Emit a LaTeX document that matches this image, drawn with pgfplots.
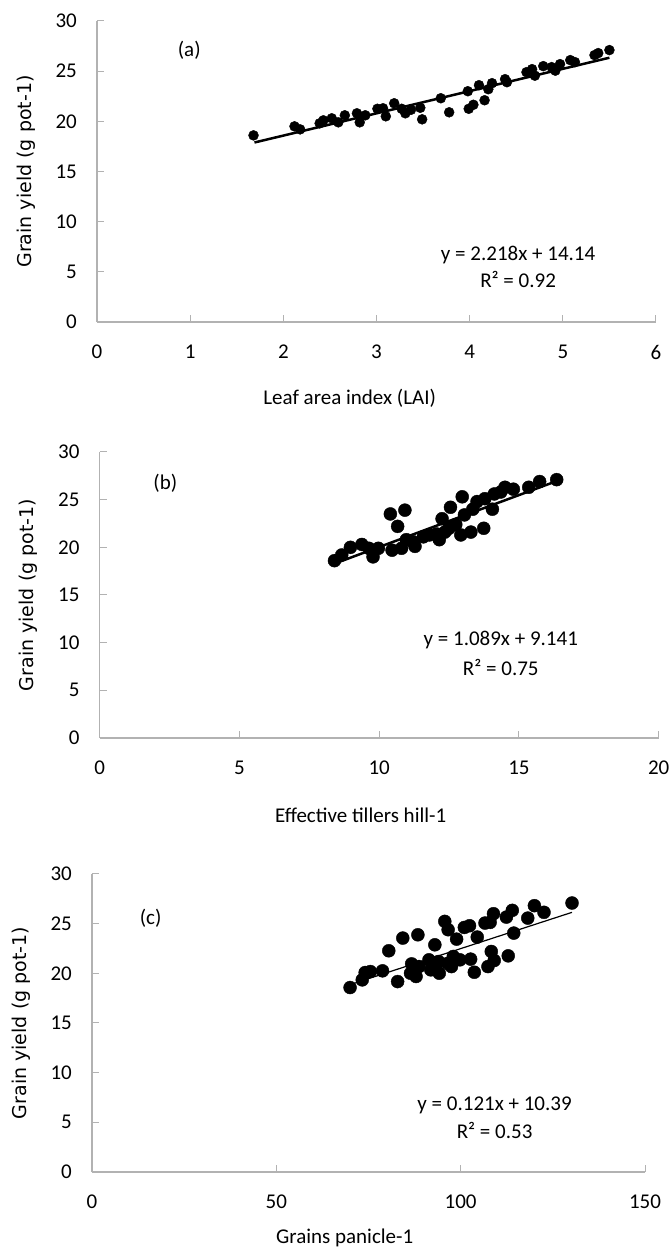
\documentclass[border=0pt]{standalone}
\usepackage{fontspec}
\setmainfont{Carlito}
\newfontfamily\dejavu{DejaVu Sans}
\usepackage{pgfplots}
\pgfplotsset{compat=1.18}
\definecolor{axgray}{RGB}{178,178,178}
\newcommand{\txt}{\fontsize{21}{25}\selectfont}

\pgfplotsset{
  panel/.style={
    scale only axis, anchor=south west,
    axis x line*=bottom, axis y line*=left,
    axis line style={axgray, line width=1.3pt},
    tick align=inside, major tick length=7pt,
    every tick/.style={axgray, line width=1pt},
    ymin=0, ymax=30, ytick={0,5,...,30},
    enlargelimits=false, clip=false,
    tick label style={font=\txt, inner sep=0pt},
    yticklabel style={anchor=east, xshift=-20pt},
    xticklabel style={anchor=north, yshift=-23pt},
    /pgf/number format/assume math mode=true,
    every axis y label/.style={at={(axis description cs:0,0.5)}, xshift=-71pt,
      rotate=90, anchor=center, font=\dejavu\fontsize{19}{22}\selectfont},
  },
  xlab/.style 2 args={every axis x label/.style={at={(axis description cs:#1,0)},
      yshift=#2, anchor=center, font=\txt}},
  dots/.style={only marks, mark=*, black, mark options={fill=black}, mark size=#1},
}

\begin{document}
\begin{tikzpicture}[x=1pt,y=1pt]
\useasboundingbox (0,0) rectangle (672,1251);

% (a) leaf area index
\begin{axis}[panel, at={(97pt,929pt)}, width=559pt, height=301pt,
  xmin=0, xmax=6, xtick={0,1,...,6}, xlab={0.452}{-76pt},
  xlabel={Leaf area index (LAI)}, ylabel={Grain yield (g pot-1)}]
\addplot[dots=5pt] coordinates {
(1.68,18.6) (2.12,19.5) (2.18,19.2) (2.39,19.8) (2.43,20.1) (2.52,20.3)
(2.59,19.9) (2.66,20.6) (2.79,20.8) (2.82,19.9) (2.88,20.6) (3.01,21.25)
(3.07,21.3) (3.10,20.5) (3.19,21.8) (3.27,21.25) (3.31,20.8) (3.37,21.15)
(3.47,21.35) (3.49,20.2) (3.69,22.3) (3.78,20.9) (3.98,23.0) (3.99,21.25)
(4.04,21.65) (4.10,23.6) (4.16,22.1) (4.20,23.2) (4.24,23.8) (4.38,24.2)
(4.40,23.9) (4.61,24.9) (4.67,25.2) (4.70,24.55) (4.79,25.5) (4.88,25.4)
(4.92,25.05) (4.97,25.7) (5.08,26.1) (5.13,25.9) (5.34,26.6) (5.38,26.8)
(5.50,27.1)};
\addplot[black, line width=2.5pt] coordinates {(1.69,17.89) (5.50,26.34)};
\node[font=\txt] at (axis cs:0.99,27.1) {(a)};
\node[font=\txt] at (axis cs:4.52,6.68) {y = 2.218x + 14.14};
\node[font=\txt] at (axis cs:4.52,4.19) {R² = 0.92};
\end{axis}

% (b) effective tillers
\begin{axis}[panel, at={(99.7pt,513pt)}, width=559pt, height=286pt,
  xmin=0, xmax=20, xtick={0,5,...,20}, xlab={0.467}{-77pt},
  xlabel={Effective tillers hill-1}, ylabel={Grain yield (g pot-1)}]
\addplot[dots=6.5pt] coordinates {
(8.40,18.6) (8.66,19.2) (8.97,20.0) (9.38,20.3) (9.63,19.9) (9.78,19.0)
(9.97,19.9) (10.40,23.5) (10.46,19.7) (10.66,22.2) (10.80,19.9) (10.92,23.9)
(10.97,20.8) (11.20,20.6) (11.28,20.1) (11.58,21.1) (11.80,21.3) (12.05,21.4)
(12.15,20.8) (12.25,23.0) (12.35,21.6) (12.50,22.0) (12.55,24.2) (12.74,22.4)
(12.92,21.3) (12.97,25.3) (13.05,23.4) (13.28,21.6) (13.35,24.0) (13.50,24.8)
(13.74,22.0) (13.78,25.1) (14.05,24.0) (14.12,25.6) (14.35,25.8) (14.50,26.3)
(14.80,26.1) (15.35,26.3) (15.74,26.9) (16.35,27.1)};
\addplot[black, line width=2.5pt] coordinates {(8.40,18.29) (16.35,26.95)};
\node[font=\txt] at (axis cs:2.35,26.75) {(b)};
\node[font=\txt] at (axis cs:14.35,10.28) {y = 1.089x + 9.141};
\node[font=\txt] at (axis cs:14.35,7.35) {R² = 0.75};
\end{axis}

% (c) grains per panicle
\begin{axis}[panel, at={(92pt,79pt)}, width=553pt, height=298pt,
  xmin=0, xmax=150, xtick={0,50,100,150}, xlab={0.457}{-66pt},
  xlabel={Grains panicle-1}, ylabel={Grain yield (g pot-1)}]
\addplot[dots=6.5pt] coordinates {
(70.0,18.57) (73.3,19.34) (74.1,20.08) (75.5,20.18) (78.8,20.25) (80.5,22.27)
(82.9,19.17) (84.3,23.55) (86.4,20.01) (86.7,20.95) (87.9,19.68) (88.4,23.88)
(88.7,20.68) (91.4,21.36) (91.9,20.35) (93.0,22.87) (93.0,20.6) (94.0,21.19)
(94.2,20.01) (95.7,25.23) (96.5,21.0) (96.6,24.39) (97.5,20.68) (98.0,21.70)
(98.9,23.44) (99.8,21.36) (101.0,24.62) (102.4,24.79) (102.7,21.43) (103.7,20.11)
(104.5,23.65) (106.6,25.06) (107.4,20.68) (108.0,25.13) (108.3,22.20) (108.9,26.00)
(109.1,21.29) (112.4,25.66) (112.9,21.76) (114.0,26.34) (114.4,24.05) (118.2,25.56)
(120.0,26.81) (122.6,26.14) (130.2,27.08)};
\addplot[black, line width=1.2pt] coordinates {(70.0,18.86) (130.2,26.14)};
\node[font=\txt] at (axis cs:15.9,25.5) {(c)};
\node[font=\txt] at (axis cs:109.2,6.75) {y = 0.121x + 10.39};
\node[font=\txt] at (axis cs:109.2,4.13) {R² = 0.53};
\end{axis}
\end{tikzpicture}
\end{document}
